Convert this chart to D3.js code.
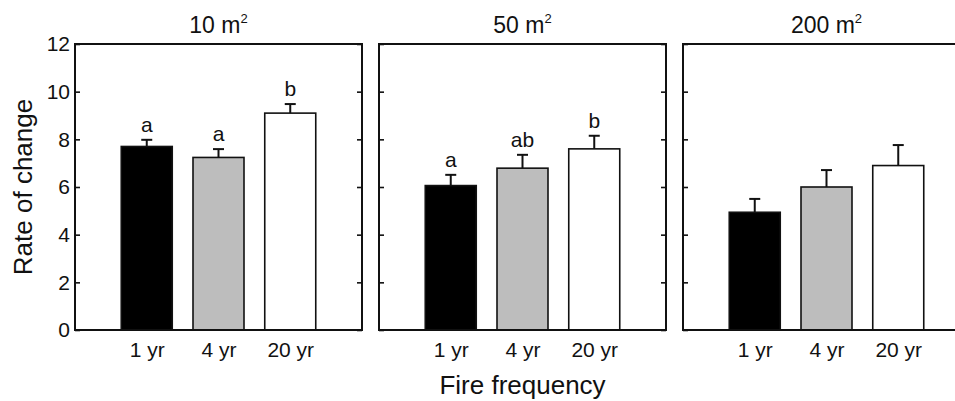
<!DOCTYPE html>
<html>
<head>
<meta charset="utf-8">
<script src="https://cdn.jsdelivr.net/npm/d3@7"></script>
<style>
  html, body { margin: 0; padding: 0; width: 955px; height: 401px; background: #fff; overflow: hidden; }
  svg { display: block; overflow: hidden; }
  text { font-family: "Liberation Sans", Arial, sans-serif; fill: #111; }
</style>
</head>
<body>
<script>
const width = 955;
const height = 401;

// data
const panels = ["10", "50", "200"];
const categories = ["1 yr", "4 yr", "20 yr"];
const means = [
  [7.70, 7.24, 9.10],
  [6.06, 6.79, 7.60],
  [4.94, 6.00, 6.90],
];
const errors = [
  [0.28, 0.35, 0.38],
  [0.45, 0.56, 0.55],
  [0.56, 0.71, 0.86],
];
const letters = [
  ["a", "a", "b"],
  ["a", "ab", "b"],
  ["", "", ""],
];
const fills = ["#000000", "#bdbdbd", "#ffffff"];
const yTicks = [0, 2, 4, 6, 8, 10, 12];

const plotLeft = 75;
const panelW = 287;
const gap = 17;
const plotTop = 44;
const plotBottom = 330;
const barW = 51;

const svg = d3.select("body").append("svg")
  .attr("width", width)
  .attr("height", height)
  .attr("viewBox", [0, 0, width, height]);

svg.append("clipPath").attr("id", "page")
  .append("rect").attr("width", width).attr("height", height);

const root = svg.append("g").attr("clip-path", "url(#page)");

const y = d3.scaleLinear().domain([0, 12]).range([plotBottom, plotTop]);
const x = d3.scalePoint().domain(categories).range([0, panelW]).padding(1);

panels.forEach(function (p, i) {
  const g = root.append("g")
    .attr("transform", "translate(" + (plotLeft + i * (panelW + gap)) + ",0)");

  const rows = categories.map(function (c, j) {
    return { cat: c, mean: means[i][j], err: errors[i][j], letter: letters[i][j], fill: fills[j] };
  });

  // error bars (upper only)
  g.selectAll(".err")
    .data(rows)
    .enter()
    .append("line")
    .attr("x1", (d) => x(d.cat))
    .attr("x2", (d) => x(d.cat))
    .attr("y1", (d) => y(d.mean))
    .attr("y2", (d) => y(d.mean + d.err))
    .attr("stroke", "#111")
    .attr("stroke-width", 2);

  g.selectAll(".cap")
    .data(rows)
    .enter()
    .append("line")
    .attr("x1", (d) => x(d.cat) - 5.5)
    .attr("x2", (d) => x(d.cat) + 5.5)
    .attr("y1", (d) => y(d.mean + d.err))
    .attr("y2", (d) => y(d.mean + d.err))
    .attr("stroke", "#111")
    .attr("stroke-width", 2);

  g.selectAll(".bar")
    .data(rows)
    .enter()
    .append("rect")
    .attr("x", (d) => x(d.cat) - barW / 2)
    .attr("y", (d) => y(d.mean))
    .attr("width", barW)
    .attr("height", (d) => y(0) - y(d.mean))
    .attr("fill", (d) => d.fill)
    .attr("stroke", "#111")
    .attr("stroke-width", 1.6);

  g.selectAll(".letter")
    .data(rows)
    .enter()
    .append("text")
    .attr("x", (d) => x(d.cat))
    .attr("y", (d) => y(d.mean + d.err) - 8)
    .attr("text-anchor", "middle")
    .attr("font-size", "21px")
    .text((d) => d.letter);

  // frame
  g.append("rect")
    .attr("x", 0)
    .attr("y", plotTop)
    .attr("width", panelW)
    .attr("height", plotBottom - plotTop)
    .attr("fill", "none")
    .attr("stroke", "#111")
    .attr("stroke-width", 2);

  // inward ticks on both sides
  const yl = g.append("g").call(d3.axisLeft(y).tickValues(yTicks).tickSize(-5).tickPadding(5));
  yl.select(".domain").remove();
  yl.selectAll("line").attr("stroke", "#111").attr("stroke-width", 1.6);
  yl.selectAll("text").attr("font-size", "21px").attr("fill", "#111")
    .style("font-family", "Liberation Sans, Arial, sans-serif");
  if (i > 0) yl.selectAll("text").remove();

  const yr = g.append("g")
    .attr("transform", "translate(" + panelW + ",0)")
    .call(d3.axisRight(y).tickValues(yTicks).tickSize(-5).tickFormat(""));
  yr.select(".domain").remove();
  yr.selectAll("line").attr("stroke", "#111").attr("stroke-width", 1.6);

  const xa = g.append("g")
    .attr("transform", "translate(0," + plotBottom + ")")
    .call(d3.axisBottom(x).tickSize(0).tickPadding(12));
  xa.select(".domain").remove();
  xa.selectAll("text").attr("font-size", "21px").attr("fill", "#111")
    .style("font-family", "Liberation Sans, Arial, sans-serif");

  const title = g.append("text")
    .attr("x", panelW / 2)
    .attr("y", 33)
    .attr("text-anchor", "middle")
    .attr("font-size", "23px");
  title.append("tspan").text(p + " m");
  title.append("tspan").attr("font-size", "13px").attr("dy", -10).text("2");
});

root.append("text")
  .attr("transform", "translate(32," + (plotTop + plotBottom) / 2 + ") rotate(-90)")
  .attr("text-anchor", "middle")
  .attr("font-size", "26px")
  .text("Rate of change");

root.append("text")
  .attr("x", plotLeft + panelW * 1.5 + gap)
  .attr("y", 394)
  .attr("text-anchor", "middle")
  .attr("font-size", "26px")
  .text("Fire frequency");
</script>
</body>
</html>
